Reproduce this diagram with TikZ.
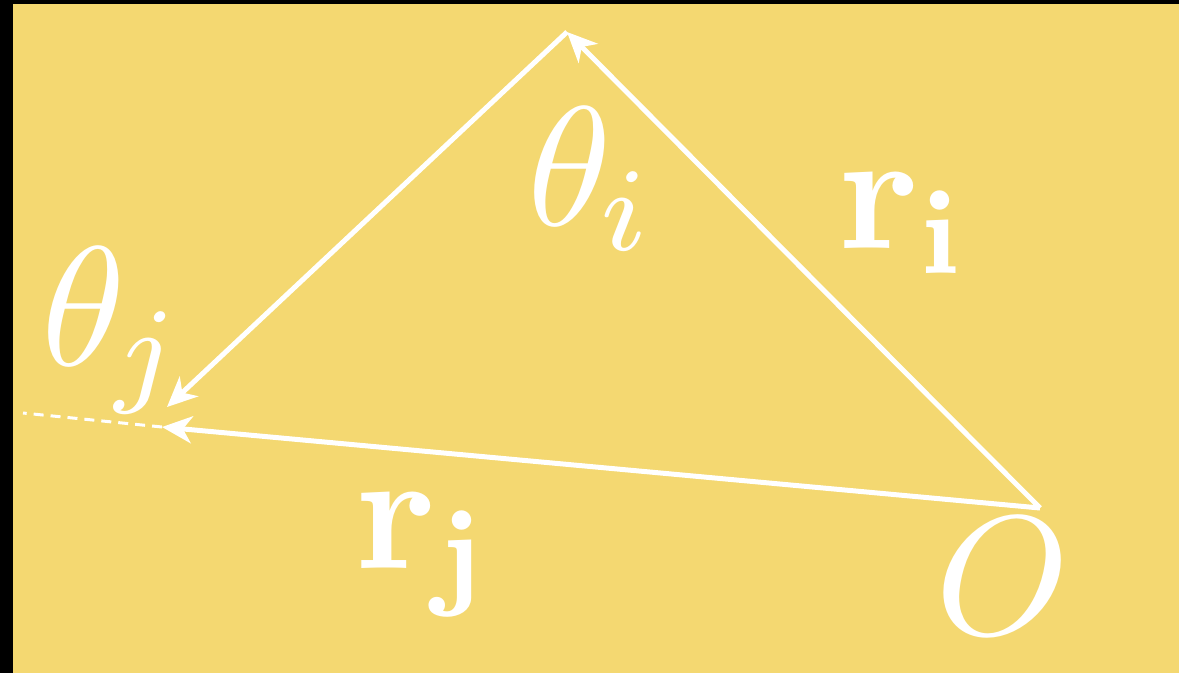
\documentclass[tikz,border=0pt]{standalone}
\usetikzlibrary{arrows.meta}
\definecolor{bgyellow}{RGB}{244,216,113}
\tikzset{
  vec/.style={draw=white, line width=5pt, -{Stealth[length=30pt, width=27pt, inset=9pt]}},
  ext/.style={draw=white, line width=3pt, dash pattern=on 10pt off 7pt},
  lbl/.style={text=white, inner sep=0pt, anchor=base west, font=\normalsize, scale=17}
}
\begin{document}
\begin{tikzpicture}[x=1pt,y=-1pt]
\useasboundingbox (0,0) rectangle (1179,673);
\fill[black] (0,0) rectangle (1179,673);
\fill[bgyellow] (13,4) rectangle (1179,673);
\coordinate (O) at (1040,508);
\coordinate (T) at (567,32);
\coordinate (Lj) at (167,407);
\coordinate (Lr) at (162,427);
\coordinate (D) at (23,413);
\draw[vec] (O) -- (T);
\draw[vec] (T) -- (Lj);
\draw[vec] (O) -- (Lr);
\draw[ext] (Lr) -- (D);
\node[lbl] (thi) at (524,225) {$\theta_{\mkern-1mu i}$};
\node[lbl] (thj) at (38,365) {$\theta_{\mkern-1mu j}$};
\node[lbl] (ri) at (835,248) {$\mathbf{r_i}$};
\node[lbl] (rj) at (352,568) {$\mathbf{r_j}$};
\node[lbl] (o) at (932,634) {$O$};
\end{tikzpicture}
\end{document}
